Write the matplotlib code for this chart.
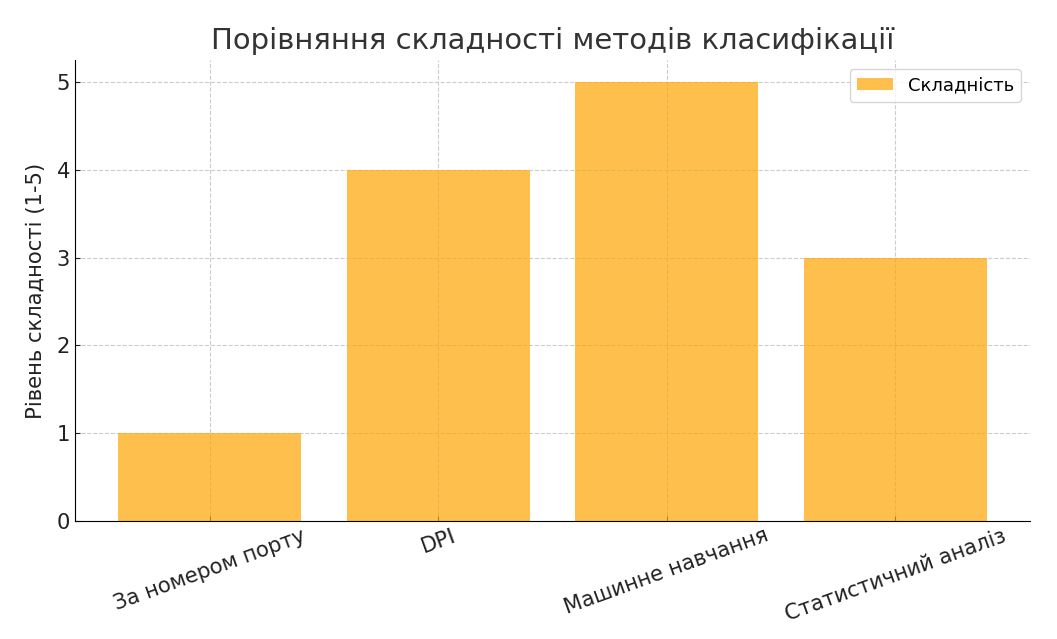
import matplotlib
matplotlib.use("Agg")
import matplotlib.pyplot as plt

# Complexity of traffic classification methods (1-5)
methods = ['За номером порту', 'DPI', 'Машинне навчання', 'Статистичний аналіз']
complexity = [1, 4, 5, 3]

plt.rcParams['font.family'] = ['DejaVu Sans']

fig, ax = plt.subplots(figsize=(10.57, 6.39), dpi=100)
ax.bar(methods, complexity, color='orange', alpha=0.7, label='Складність')

ax.set_title('Порівняння складності методів класифікації', fontsize=20.9, color='#333333', pad=8)
ax.set_ylabel('Рівень складності (1-5)', fontsize=15.2, color='#222222', labelpad=8)
ax.tick_params(axis='both', direction='in', labelsize=15.2, colors='#222222')
plt.setp(ax.get_xticklabels(), rotation=20)
ax.grid(True, linestyle='--', color='#cccccc', linewidth=0.8)
ax.set_axisbelow(True)
ax.spines['top'].set_visible(False)
ax.spines['right'].set_visible(False)
ax.legend(fontsize=13, loc='upper right')

fig.subplots_adjust(left=0.071, right=0.9745, top=0.906, bottom=0.185)
plt.savefig('out.png')
